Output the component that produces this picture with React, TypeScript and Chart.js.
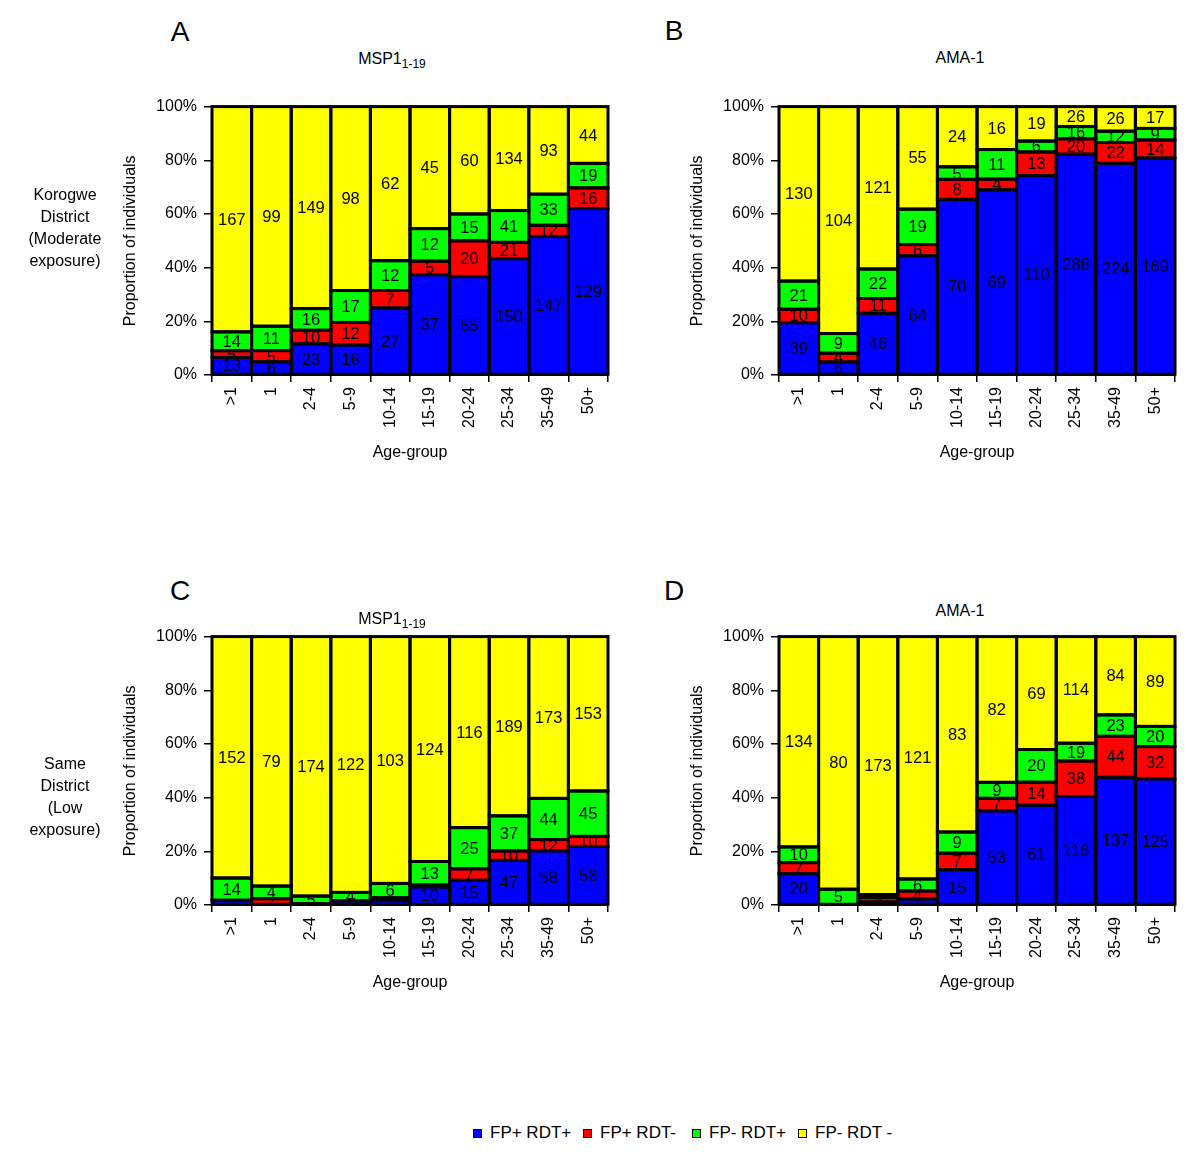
import React, { useEffect, useRef } from 'react';
import { Chart, registerables } from 'chart.js';
Chart.register(...registerables);

const FONT = 'Liberation Sans, Arial, Helvetica, sans-serif';

const ageGroups = ['>1', '1', '2-4', '5-9', '10-14', '15-19', '20-24', '25-34', '35-49', '50+'];
const seriesNames = ['FP+ RDT+', 'FP+ RDT-', 'FP- RDT+', 'FP- RDT -'];
const seriesColors = ['#0000FF', '#FF0000', '#00FF00', '#FFFF00'];
const yTickStep = 20;

// Panel A – Korogwe, MSP1 1-19 (counts)
const aFpPosRdtPos = [13, 6, 23, 16, 27, 37, 55, 150, 147, 129];
const aFpPosRdtNeg = [5, 5, 10, 12, 7, 5, 20, 21, 12, 16];
const aFpNegRdtPos = [14, 11, 16, 17, 12, 12, 15, 41, 33, 19];
const aFpNegRdtNeg = [167, 99, 149, 98, 62, 45, 60, 134, 93, 44];

// Panel B – Korogwe, AMA-1
const bFpPosRdtPos = [39, 6, 46, 64, 70, 69, 110, 288, 224, 169];
const bFpPosRdtNeg = [10, 4, 11, 6, 8, 4, 13, 20, 22, 14];
const bFpNegRdtPos = [21, 9, 22, 19, 5, 11, 6, 16, 12, 9];
const bFpNegRdtNeg = [130, 104, 121, 55, 24, 16, 19, 26, 26, 17];

// Panel C – Same, MSP1 1-19
const cFpPosRdtPos = [3, 0, 1, 2, 2, 10, 15, 47, 58, 58];
const cFpPosRdtNeg = [0, 2, 0, 0, 1, 1, 7, 10, 12, 10];
const cFpNegRdtPos = [14, 4, 5, 4, 6, 13, 25, 37, 44, 45];
const cFpNegRdtNeg = [152, 79, 174, 122, 103, 124, 116, 189, 173, 153];

// Panel D – Same, AMA-1
const dFpPosRdtPos = [20, 0, 2, 3, 15, 53, 61, 116, 137, 125];
const dFpPosRdtNeg = [7, 0, 3, 4, 7, 7, 14, 38, 44, 32];
const dFpNegRdtPos = [10, 5, 2, 6, 9, 9, 20, 19, 23, 20];
const dFpNegRdtNeg = [134, 80, 173, 121, 83, 82, 69, 114, 84, 89];

const barDecor = {
  id: 'barDecor',
  afterDatasetsDraw(chart: any) {
    const ctx = chart.ctx;
    ctx.save();
    const rects: any[] = [];
    chart.data.datasets.forEach((ds: any, di: number) => {
      const meta = chart.getDatasetMeta(di);
      meta.data.forEach((el: any, i: number) => {
        const cnt = ds.counts[i];
        if (!cnt) return;
        const left = el.x - el.width / 2;
        const top = Math.min(el.y, el.base);
        const h = Math.abs(el.base - el.y);
        rects.push({ left, top, w: el.width, h, cnt, cx: el.x, cy: top + h / 2 });
      });
    });
    ctx.strokeStyle = '#000';
    ctx.lineWidth = 3;
    rects.forEach((r) => ctx.strokeRect(r.left, r.top, r.w, r.h));
    ctx.font = '16.5px ' + FONT;
    ctx.fillStyle = '#000';
    ctx.textAlign = 'center';
    ctx.textBaseline = 'middle';
    rects.forEach((r) => {
      ctx.save();
      ctx.beginPath();
      ctx.rect(r.left + 1.5, r.top + 1.5, r.w - 3, r.h - 3);
      ctx.clip();
      ctx.fillText(String(r.cnt), r.cx, r.cy + 1);
      ctx.restore();
    });
    ctx.restore();
  },
};

function Panel({ counts, left, top }: { counts: number[][]; left: number; top: number }) {
  const ref = useRef<HTMLCanvasElement>(null);
  useEffect(() => {
    const totals = ageGroups.map((_, i) => counts.reduce((s, arr) => s + arr[i], 0));
    const chart = new Chart(ref.current as HTMLCanvasElement, {
      type: 'bar',
      data: {
        labels: ageGroups,
        datasets: counts.map((arr, k) => ({
          label: seriesNames[k],
          data: arr.map((v, i) => (100 * v) / totals[i]),
          counts: arr,
          backgroundColor: seriesColors[k],
          borderWidth: 0,
          categoryPercentage: 1,
          barPercentage: 1,
        })) as any,
      },
      options: {
        responsive: false,
        animation: false,
        layout: { padding: { top: 14, right: 12, left: 0, bottom: 0 } },
        plugins: { legend: { display: false }, tooltip: { enabled: false } },
        scales: {
          x: {
            stacked: true,
            afterFit: (s: any) => {
              s.height = 95;
            },
            grid: { display: true, drawOnChartArea: false, drawTicks: true, tickLength: 7, color: '#000', lineWidth: 1.5, offset: true },
            border: { display: true, color: '#000', width: 2 },
            ticks: { minRotation: 90, maxRotation: 90, padding: 5, autoSkip: false, color: '#000', font: { size: 16, family: FONT } },
            title: { display: true, text: 'Age-group', color: '#000', font: { size: 16, family: FONT }, padding: { top: 0, bottom: 8 } },
          },
          y: {
            stacked: true,
            min: 0,
            max: 100,
            afterFit: (s: any) => {
              s.width = 102;
            },
            grid: { drawOnChartArea: false, drawTicks: true, tickLength: 8, color: '#000', lineWidth: 1.5 },
            border: { display: true, color: '#000', width: 2 },
            ticks: { stepSize: yTickStep, padding: 7, color: '#000', font: { size: 16, family: FONT }, callback: (v: any) => v + '%' },
            title: { display: true, text: 'Proportion of individuals', color: '#000', font: { size: 16, family: FONT }, padding: { top: 11, bottom: 0 } },
          },
        },
      } as any,
      plugins: [barDecor],
    });
    return () => chart.destroy();
  }, []);
  return <canvas ref={ref} width={510} height={380} style={{ position: 'absolute', left, top, width: 510, height: 380 }} />;
}

function Txt({ x, y, size, children, w = 200, lh }: any) {
  const lineH = lh || Math.round(size * 1.2);
  return (
    <div
      style={{
        position: 'absolute',
        left: x - w / 2,
        top: y - lineH / 2,
        width: w,
        textAlign: 'center',
        fontSize: size,
        lineHeight: lineH + 'px',
        whiteSpace: 'nowrap',
      }}
    >
      {children}
    </div>
  );
}

const legendX = [473, 583, 692, 798];

export default function App() {
  return (
    <div style={{ position: 'absolute', left: 0, top: 0, width: 1200, height: 1166, background: '#fff', fontFamily: FONT, color: '#000' }}>
      <Panel counts={[aFpPosRdtPos, aFpPosRdtNeg, aFpNegRdtPos, aFpNegRdtNeg]} left={110} top={90} />
      <Panel counts={[bFpPosRdtPos, bFpPosRdtNeg, bFpNegRdtPos, bFpNegRdtNeg]} left={677} top={90} />
      <Panel counts={[cFpPosRdtPos, cFpPosRdtNeg, cFpNegRdtPos, cFpNegRdtNeg]} left={110} top={620} />
      <Panel counts={[dFpPosRdtPos, dFpPosRdtNeg, dFpNegRdtPos, dFpNegRdtNeg]} left={677} top={620} />

      <Txt x={180} y={32} size={28}>A</Txt>
      <Txt x={674} y={31} size={28}>B</Txt>
      <Txt x={180} y={591} size={28}>C</Txt>
      <Txt x={674} y={591} size={28}>D</Txt>

      <Txt x={392} y={58} size={16}>
        MSP1<sub style={{ fontSize: 12, verticalAlign: 'sub', lineHeight: 0 }}>1-19</sub>
      </Txt>
      <Txt x={960} y={57} size={16}>AMA-1</Txt>
      <Txt x={392} y={618} size={16}>
        MSP1<sub style={{ fontSize: 12, verticalAlign: 'sub', lineHeight: 0 }}>1-19</sub>
      </Txt>
      <Txt x={960} y={610} size={16}>AMA-1</Txt>

      <div style={{ position: 'absolute', left: 0, top: 184, width: 130, textAlign: 'center', fontSize: 16, lineHeight: '22px' }}>
        Korogwe<br />District<br />(Moderate<br />exposure)
      </div>
      <div style={{ position: 'absolute', left: 0, top: 753, width: 130, textAlign: 'center', fontSize: 16, lineHeight: '22px' }}>
        Same<br />District<br />(Low<br />exposure)
      </div>

      {seriesNames.map((n, k) => (
        <div key={n} style={{ position: 'absolute', left: legendX[k], top: 1123, height: 20, display: 'flex', alignItems: 'center', fontSize: 17, whiteSpace: 'nowrap' }}>
          <span style={{ display: 'inline-block', width: 7, height: 7, border: '1px solid #000', background: seriesColors[k], marginRight: 8 }} />
          {n}
        </div>
      ))}
    </div>
  );
}
